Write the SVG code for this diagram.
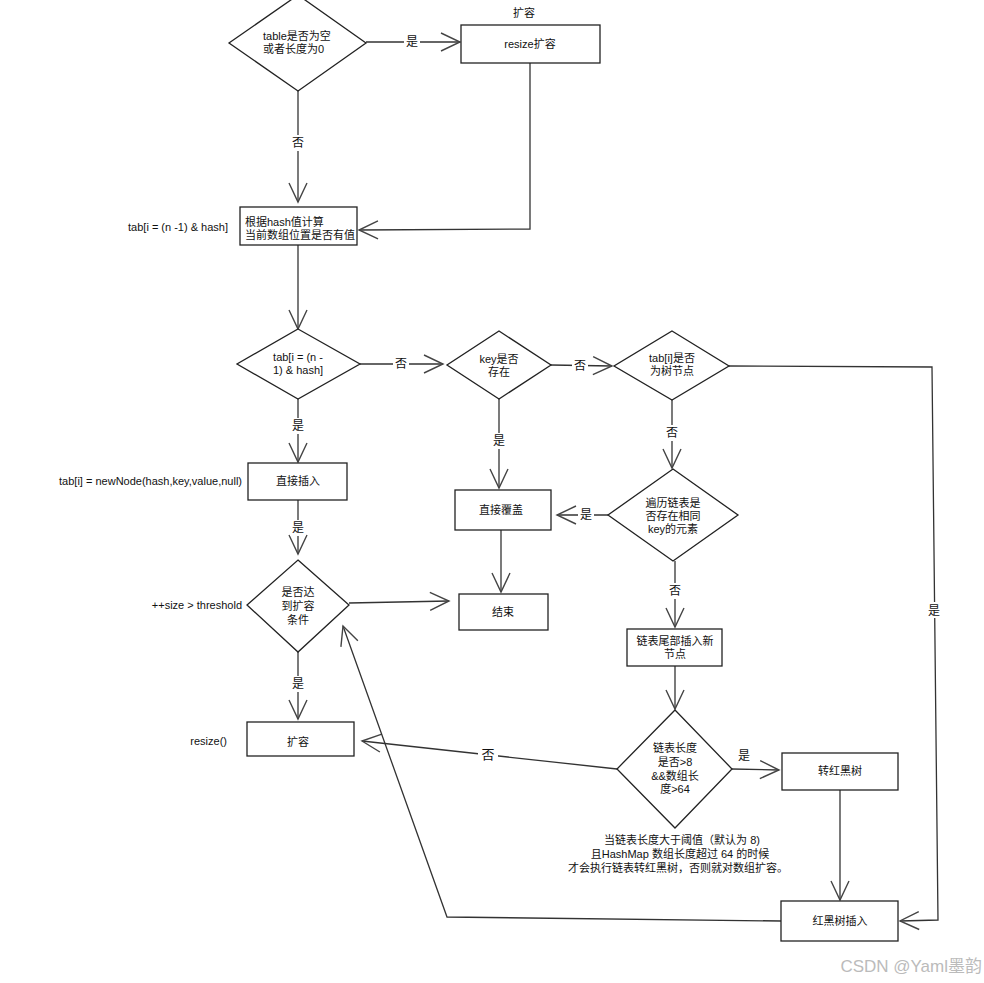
<svg xmlns="http://www.w3.org/2000/svg" width="984" height="983" viewBox="0 0 984 983">
<defs>
<marker id="arr" markerUnits="userSpaceOnUse" markerWidth="22" markerHeight="20" viewBox="0 0 22 20" refX="20" refY="10" orient="auto">
<path d="M1,1 L20,10 L1,19" fill="none" stroke="#444" stroke-width="1.4"/>
</marker>
<style>
.n{fill:#fff;stroke:#222;stroke-width:1.3}
.t{font-family:"Liberation Sans","Noto Sans CJK SC",sans-serif;font-size:11px;fill:#111}
.c{text-anchor:middle}
.r{text-anchor:end}
.e{fill:none;stroke:#333;stroke-width:1.3;marker-end:url(#arr)}
.lb{fill:#fff}
.l{font-family:"Liberation Sans","Noto Sans CJK SC",sans-serif;font-size:12px;fill:#111;text-anchor:middle}
</style>
</defs>
<rect width="984" height="983" fill="#fff"/>
<g id="connectors">
<path class="e" d="M366,42 L460,42"/>
<path class="e" d="M298,91 L298,202"/>
<path class="e" d="M530,63 L530,229 L359,230"/>
<path class="e" d="M298,245 L298,329"/>
<path class="e" d="M360,364 L443,364"/>
<path class="e" d="M551,365 L612,366"/>
<path class="e" d="M729,366 L932,367 L938,920 L900,921"/>
<path class="e" d="M298,399 L298,462"/>
<path class="e" d="M298,500 L298,554"/>
<path class="e" d="M349,603 L449,601"/>
<path class="e" d="M499,399 L499,488"/>
<path class="e" d="M501,530 L501,592"/>
<path class="e" d="M672,399 L672,468"/>
<path class="e" d="M608,515 L557,515"/>
<path class="e" d="M675,561 L675,627"/>
<path class="e" d="M675,666 L675,709"/>
<path class="e" d="M732,769 L779,770"/>
<path class="e" d="M840,790 L840,900"/>
<path class="e" d="M617,769 L362,741"/>
<path class="e" d="M298,652 L298,719"/>
<path class="e" d="M781,921 L447,917 L343,626"/>
<g id="edge-labels">
<rect class="lb" x="404" y="34" width="16" height="16"/><text class="l" x="412" y="46">是</text>
<rect class="lb" x="290" y="135" width="16" height="16"/><text class="l" x="298" y="147">否</text>
<rect class="lb" x="393" y="356" width="16" height="16"/><text class="l" x="401" y="368">否</text>
<rect class="lb" x="572" y="357" width="16" height="16"/><text class="l" x="580" y="370">否</text>
<rect class="lb" x="926" y="602" width="16" height="16"/><text class="l" x="934" y="615">是</text>
<rect class="lb" x="290" y="418" width="16" height="16"/><text class="l" x="298" y="430">是</text>
<rect class="lb" x="290" y="520" width="16" height="16"/><text class="l" x="298" y="532">是</text>
<rect class="lb" x="491" y="433" width="16" height="16"/><text class="l" x="499" y="445">是</text>
<rect class="lb" x="664" y="425" width="16" height="16"/><text class="l" x="672" y="437">否</text>
<rect class="lb" x="578" y="507" width="16" height="16"/><text class="l" x="586" y="519">是</text>
<rect class="lb" x="667" y="583" width="16" height="16"/><text class="l" x="675" y="595">否</text>
<rect class="lb" x="736" y="748" width="16" height="16"/><text class="l" x="744" y="760">是</text>
<rect class="lb" x="478" y="745" width="20" height="18"/><text class="l" x="488" y="759" style="font-size:13px">否</text>
<rect class="lb" x="290" y="676" width="16" height="16"/><text class="l" x="298" y="688">是</text>
</g>
</g>
<g id="n1"><path class="n" d="M298,-5 L366,43 L298,91 L229,43 Z"/><text class="t" x="263" y="40">table是否为空</text><text class="t" x="263" y="53">或者长度为0</text></g>
<g id="n2"><rect class="n" x="461" y="25" width="139" height="38"/><text class="t c" x="530" y="48">resize扩容</text><text class="t c" x="524" y="17">扩容</text></g>
<g id="n3"><rect class="n" x="240" y="207" width="117" height="38"/><text class="t" x="245" y="226">根据hash值计算</text><text class="t" x="245" y="239">当前数组位置是否有值</text><text class="t r" x="228" y="231">tab[i = (n -1) &amp; hash]</text></g>
<g id="n4"><path class="n" d="M298,329 L360,364 L298,399 L237,364 Z"/><text class="t c" x="298" y="361">tab[i = (n -</text><text class="t c" x="298" y="374">1) &amp; hash]</text></g>
<g id="n5"><path class="n" d="M499,331 L551,365 L499,399 L447,365 Z"/><text class="t c" x="499" y="363">key是否</text><text class="t c" x="499" y="376">存在</text></g>
<g id="n6"><path class="n" d="M672,331 L729,366 L672,400 L614,366 Z"/><text class="t c" x="672" y="362">tab[i]是否</text><text class="t c" x="672" y="375">为树节点</text></g>
<g id="n7"><rect class="n" x="248" y="463" width="99" height="37"/><text class="t c" x="298" y="485">直接插入</text><text class="t r" x="242" y="485">tab[i] = newNode(hash,key,value,null)</text></g>
<g id="n8"><rect class="n" x="455" y="490" width="96" height="40"/><text class="t c" x="501" y="514">直接覆盖</text></g>
<g id="n9"><path class="n" d="M673,469 L738,515 L673,561 L608,515 Z"/><text class="t c" x="673" y="507">遍历链表是</text><text class="t c" x="673" y="520">否存在相同</text><text class="t c" x="673" y="533">key的元素</text></g>
<g id="n10"><path class="n" d="M298,560 L349,605 L298,652 L247,605 Z"/><text class="t c" x="298" y="596">是否达</text><text class="t c" x="298" y="610">到扩容</text><text class="t c" x="298" y="624">条件</text><text class="t r" x="242" y="609">++size &gt; threshold</text></g>
<g id="n11"><rect class="n" x="459" y="594" width="89" height="36"/><text class="t c" x="503" y="616">结束</text></g>
<g id="n12"><rect class="n" x="627" y="629" width="95" height="37"/><text class="t c" x="675" y="645">链表尾部插入新</text><text class="t c" x="675" y="658">节点</text></g>
<g id="n13"><path class="n" d="M675,710 L732,769 L675,828 L617,769 Z"/><text class="t c" x="675" y="752">链表长度</text><text class="t c" x="675" y="766">是否&gt;8</text><text class="t c" x="675" y="780">&amp;&amp;数组长</text><text class="t c" x="675" y="793">度&gt;64</text></g>
<g id="n14"><rect class="n" x="247" y="722" width="107" height="34"/><text class="t c" x="298" y="746">扩容</text><text class="t r" x="227" y="745">resize()</text></g>
<g id="n15"><rect class="n" x="782" y="753" width="116" height="37"/><text class="t c" x="840" y="775">转红黑树</text></g>
<g id="n16"><rect class="n" x="781" y="901" width="117" height="40"/><text class="t c" x="840" y="925">红黑树插入</text></g>
<g id="note"><text class="t c" x="682" y="844">当链表长度大于阈值（默认为 8)</text><text class="t c" x="680" y="858">且HashMap 数组长度超过 64 的时候</text><text class="t c" x="678" y="872">才会执行链表转红黑树，否则就对数组扩容。</text></g>
<text x="982" y="972" style="font-family:'Liberation Sans','Noto Sans CJK SC',sans-serif;font-size:17px;fill:#bbb;text-anchor:end">CSDN @Yaml墨韵</text>
</svg>
